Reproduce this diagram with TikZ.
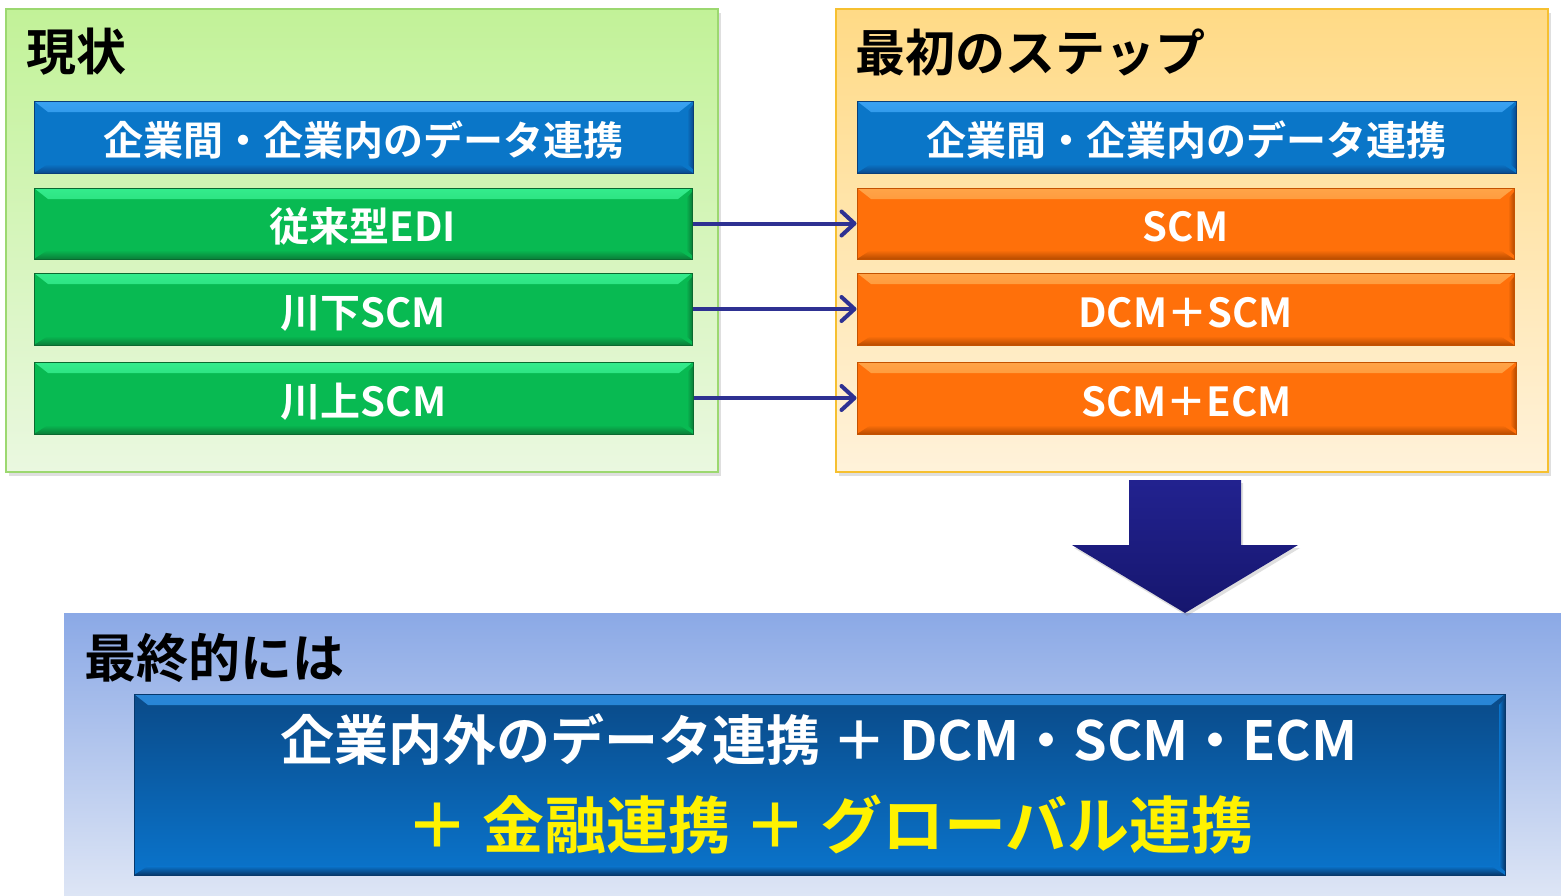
\documentclass[tikz,border=0pt]{standalone}
\usepackage{fontspec}
\setmainfont{Noto Sans CJK JP}[BoldFont={Noto Sans CJK JP Bold}]
\usetikzlibrary{arrows.meta,shadows}
\definecolor{gpanelT}{HTML}{C2F298}
\definecolor{gpanelB}{HTML}{EAF8E0}
\definecolor{gpanelE}{HTML}{9CD870}
\definecolor{opanelT}{HTML}{FFDA86}
\definecolor{opanelB}{HTML}{FFF2DA}
\definecolor{opanelE}{HTML}{F6C030}
\definecolor{bpanelT}{HTML}{8BA9E6}
\definecolor{bpanelB}{HTML}{DDE5F5}
\definecolor{blueBase}{HTML}{0A76C8}
\definecolor{blueHi}{HTML}{3AA2F2}
\definecolor{blueLo}{HTML}{0A4A8E}
\definecolor{blueEdge}{HTML}{0A3E78}
\definecolor{greenBase}{HTML}{08BA52}
\definecolor{greenHi}{HTML}{34EC8C}
\definecolor{greenLo}{HTML}{0A7E38}
\definecolor{greenEdge}{HTML}{0A6A30}
\definecolor{orBase}{HTML}{FF700A}
\definecolor{orHi}{HTML}{FFA448}
\definecolor{orLo}{HTML}{B84C00}
\definecolor{orEdge}{HTML}{C45200}
\definecolor{finT}{HTML}{0A4A88}
\definecolor{finB}{HTML}{0A74CC}
\definecolor{finHi}{HTML}{2A86D6}
\definecolor{finLo}{HTML}{06386C}
\definecolor{linkc}{HTML}{2E3192}
\definecolor{arrT}{HTML}{22228F}
\definecolor{arrB}{HTML}{16166E}
\begin{document}
\begin{tikzpicture}[x=1pt,y=-1pt,
  panel/.style={draw=#1, line width=1.5pt, inner sep=0pt, drop shadow={opacity=0.25, shadow xshift=3pt, shadow yshift=-4pt}},
  bevelbar/.style n args={4}{draw=#4, line width=1pt, inner sep=0pt, fill=#1,
    path picture={
      \shade[top color=#2, bottom color=#1]
        (path picture bounding box.north west) -- (path picture bounding box.north east)
        -- ([xshift=-14pt,yshift=-11pt]path picture bounding box.north east)
        -- ([xshift=14pt,yshift=-11pt]path picture bounding box.north west) -- cycle;
      \shade[top color=#1, bottom color=#3]
        (path picture bounding box.south west) -- (path picture bounding box.south east)
        -- ([xshift=-14pt,yshift=9pt]path picture bounding box.south east)
        -- ([xshift=14pt,yshift=9pt]path picture bounding box.south west) -- cycle;
      \shade[left color=#1, right color=#3]
        ([xshift=-6pt,yshift=-11pt]path picture bounding box.north east)
        -- ([yshift=-4pt]path picture bounding box.north east)
        -- ([yshift=4pt]path picture bounding box.south east)
        -- ([xshift=-6pt,yshift=9pt]path picture bounding box.south east) -- cycle;
    }},
  bartext/.style={text=white, font=\bfseries\fontsize{40}{44}\selectfont, text height=40pt, text depth=4pt},
  hdrbar/.style={bevelbar={blueBase}{blueHi}{blueLo}{blueEdge}, bartext},
  grbar/.style={bevelbar={greenBase}{greenHi}{greenLo}{greenEdge}, bartext},
  orbar/.style={bevelbar={orBase}{orHi}{orLo}{orEdge}, bartext},
  ttl/.style={anchor=west, inner sep=0pt, text=black, font=\bfseries\fontsize{50}{54}\selectfont},
  link/.style={draw=linkc, line width=4pt, line join=round, -{Straight Barb[length=13pt,width=24pt,line width=4pt,round]}}
]
\useasboundingbox (0,0) rectangle (1561,895);

% panels
\node[panel=gpanelE, top color=gpanelT, bottom color=gpanelB, minimum width=712pt, minimum height=463pt] (pnow) at (362,240.5) {};
\node[panel=opanelE, top color=opanelT, bottom color=opanelB, minimum width=712pt, minimum height=463pt] (pfirst) at (1192,240.5) {};
\node[inner sep=0pt, top color=bpanelT, bottom color=bpanelB, minimum width=1497pt, minimum height=282pt] (pfinal) at (812.5,754) {};

% titles
\node[ttl] (tnow) at (26,52) {現状};
\node[ttl] (tfirst) at (855,52) {最初のステップ};
\node[ttl, font=\bfseries\fontsize{52}{56}\selectfont] (tfinal) at (84,658) {最終的には};

% left bars
\node[hdrbar, minimum width=659pt, minimum height=72pt] (h1) at (363.5,137) {企業間・企業内のデータ連携};
\node[grbar, minimum width=658pt, minimum height=71pt] (g1) at (363,223.5) {従来型EDI};
\node[grbar, minimum width=658pt, minimum height=72pt] (g2) at (363,309) {川下SCM};
\node[grbar, minimum width=659pt, minimum height=72pt] (g3) at (363.5,398) {川上SCM};

% right bars
\node[hdrbar, minimum width=659pt, minimum height=72pt] (h2) at (1186.5,137) {企業間・企業内のデータ連携};
\node[orbar, minimum width=657pt, minimum height=71pt] (o1) at (1185.5,223.5) {SCM};
\node[orbar, minimum width=657pt, minimum height=72pt] (o2) at (1185.5,309) {DCM＋SCM};
\node[orbar, minimum width=659pt, minimum height=72pt] (o3) at (1186.5,398) {SCM＋ECM};

% connectors
\draw[link] (g1.east) -- (o1.west);
\draw[link] (g2.east) -- (o2.west);
\draw[link] (g3.east) -- (o3.west);

% big arrow
\shade[top color=arrT, bottom color=arrB, drop shadow={opacity=0.25, shadow xshift=2pt, shadow yshift=-3pt}]
  (1129,480) -- (1241,480) -- (1241,545) -- (1298,545) -- (1185,613) -- (1072,545) -- (1129,545) -- cycle;

% final box
\node[bevelbar={finB}{finHi}{finLo}{finLo}, top color=finT, bottom color=finB, minimum width=1371pt, minimum height=181pt] (fin) at (819.5,784.5) {};
\node[inner sep=0pt, text=white, font=\bfseries\fontsize{54}{58}\selectfont] (fl1) at (819,740) {企業内外のデータ連携 ＋ DCM・SCM・ECM};
\node[inner sep=0pt, text=yellow, font=\bfseries\fontsize{62}{66}\selectfont] (fl2) at (830,825) {＋ 金融連携 ＋ グローバル連携};
\end{tikzpicture}
\end{document}
